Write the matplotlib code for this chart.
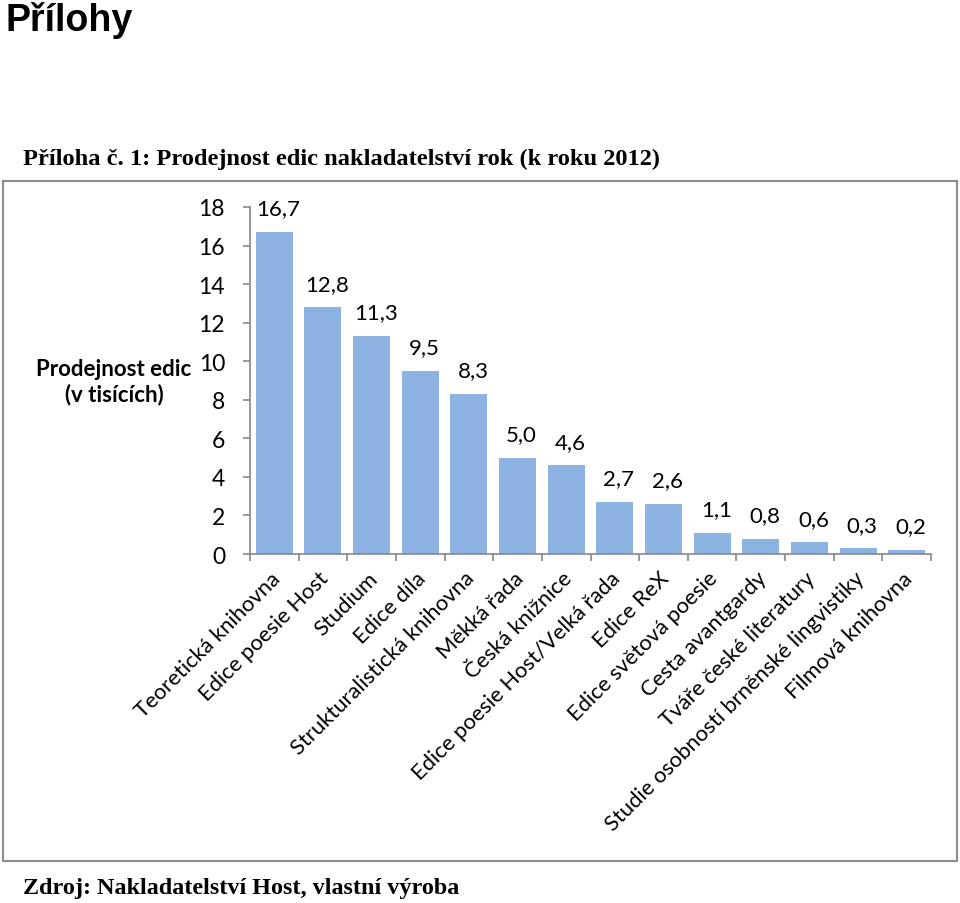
import matplotlib
matplotlib.use("Agg")
import matplotlib.pyplot as plt
from matplotlib.patches import Rectangle

categories = ["Teoretická knihovna", "Edice poesie Host", "Studium", "Edice díla",
              "Strukturalistická knihovna", "Měkká řada", "Česká knižnice",
              "Edice poesie Host/Velká řada", "Edice ReX", "Edice světová poesie",
              "Cesta avantgardy", "Tváře české literatury",
              "Studie osobností brněnské lingvistiky", "Filmová knihovna"]
values = [16.7, 12.8, 11.3, 9.5, 8.3, 5.0, 4.6, 2.7, 2.6, 1.1, 0.8, 0.6, 0.3, 0.2]
yticks = [0, 2, 4, 6, 8, 10, 12, 14, 16, 18]

W, H = 960, 904
fig = plt.figure(figsize=(W / 100, H / 100), dpi=100)

SANS = ["Lato", "DejaVu Sans"]
SERIF = ["Liberation Serif", "DejaVu Serif"]

def fx(x):
    return x / W

def fy(y):
    return 1 - y / H

# page texts
fig.text(fx(5), fy(31), "Přílohy", fontsize=27, fontweight="bold",
         family=["Liberation Sans", "DejaVu Sans"], ha="left", va="baseline")
fig.text(fx(23), fy(165), "Příloha č. 1: Prodejnost edic nakladatelství rok (k roku 2012)",
         fontsize=17.6, fontweight="bold", family=SERIF, ha="left", va="baseline")
fig.text(fx(23), fy(894), "Zdroj: Nakladatelství Host, vlastní výroba",
         fontsize=17.4, fontweight="bold", family=SERIF, ha="left", va="baseline")

# chart frame
fig.patches.append(Rectangle((fx(3), fy(862)), fx(957) - fx(3), fy(182) - fy(862),
                             transform=fig.transFigure, fill=False,
                             edgecolor="#8c8c8c", linewidth=1.5))

ax_l, ax_r, ax_t, ax_b = 250, 931, 208, 555
ax = fig.add_axes([fx(ax_l), fy(ax_b), fx(ax_r) - fx(ax_l), fy(ax_t) - fy(ax_b)])

n = len(values)
x = list(range(n))
ax.bar(x, values, width=0.76, color="#8db3e2", zorder=2)
ax.set_xlim(-0.5, n - 0.5)
ax.set_ylim(0, 18)

axis_col = "#868686"
for s in ["top", "right"]:
    ax.spines[s].set_visible(False)
for s in ["left", "bottom"]:
    ax.spines[s].set_color(axis_col)
    ax.spines[s].set_linewidth(1.2)

ax.set_yticks(yticks)
ax.set_yticklabels([str(v) for v in yticks], family=SANS, fontsize=16.5)
ax.tick_params(axis="y", direction="out", length=5, width=1.2, color=axis_col, pad=13)

# x ticks at category boundaries
ax.set_xticks([i - 0.5 for i in range(n + 1)])
ax.set_xticklabels([])
ax.tick_params(axis="x", direction="out", length=5, width=1.2, color=axis_col)

for i, lab in enumerate(categories):
    ax.annotate(lab, xy=(i, 0), xycoords=("data", "axes fraction"),
                xytext=(2, -15), textcoords="offset points",
                rotation=45, rotation_mode="anchor", ha="right", va="center",
                family=SANS, fontsize=15.8)

for i, v in enumerate(values):
    ax.annotate(f"{v:.1f}".replace(".", ","), xy=(i, v), xytext=(3, 17),
                textcoords="offset points", ha="center", va="center",
                family=SANS, fontsize=16)

fig.text(fx(114), fy(382), "Prodejnost edic\n(v tisících)", ha="center", va="center",
         fontsize=16, fontweight="bold", family=SANS, linespacing=1.2)

fig.savefig("out.png", dpi=100)
